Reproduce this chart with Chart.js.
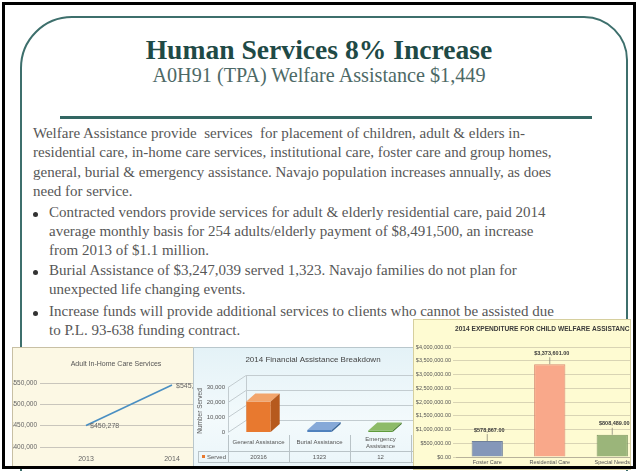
<!DOCTYPE html>
<html><head><meta charset="utf-8">
<script src="https://cdn.jsdelivr.net/npm/chart.js@4"></script>
<style>
html,body{margin:0;padding:0;background:#fff;}
#slide{position:relative;width:638px;height:471px;overflow:hidden;background:#fff;font-family:'Liberation Serif','Times New Roman',serif;}
#frame{position:absolute;left:2px;top:2px;width:628px;height:461px;border:3px solid #000;z-index:20;pointer-events:none;}
#round{position:absolute;left:20px;top:16px;width:604px;height:520px;border:2px solid #3d6f6c;border-radius:52px 44px 0 0;}
#title{position:absolute;left:0;top:35px;width:638px;text-align:center;font-weight:bold;font-size:27.6px;line-height:30px;color:#1f4a46;white-space:nowrap;}
#subtitle{position:absolute;left:0;top:64px;width:638px;text-align:center;font-size:20.2px;line-height:22px;color:#4d6966;white-space:nowrap;}
#divider{position:absolute;left:60px;top:116px;width:532px;height:3px;background:#336763;}
.blk{position:absolute;left:33px;font-size:15px;line-height:19.4px;color:#575757;white-space:nowrap;}
.bl{left:49px;}
.dot{position:absolute;left:-16px;top:9px;width:5px;height:5px;border-radius:50%;background:#333;}
.panel{position:absolute;overflow:hidden;}
#p1{left:12px;top:347px;width:215px;height:121px;background:#fcf8e4;border-left:1px solid #c8c0a4;border-top:1px solid #c8c0a4;z-index:2;}
#p2{left:193px;top:347px;width:225px;height:121px;background:linear-gradient(#e4f2f7,#f3fafc 60%,#eaf5f9);border-left:1px solid #b9c7cc;border-top:1px solid #b9c7cc;z-index:3;}
#p3{left:413px;top:319px;width:216px;height:149px;background:#fefbd2;border:1px solid #d6cf9e;z-index:4;}
canvas{position:absolute;left:0;top:0;}
</style></head>
<body>
<div id="slide">
  <div id="round"></div>
  <div id="title">Human Services 8% Increase</div>
  <div id="subtitle">A0H91 (TPA) Welfare Assistance $1,449</div>
  <div id="divider"></div>
  <div class="blk" style="top:123.7px">Welfare Assistance provide&nbsp; services&nbsp; for placement of children, adult &amp; elders in-<br>residential care, in-home care services, institutional care, foster care and group homes,<br>general, burial &amp; emergency assistance. Navajo population increases annually, as does<br>need for service.</div>
  <div class="blk bl" style="top:202.6px"><span class="dot"></span>Contracted vendors provide services for adult &amp; elderly residential care, paid 2014<br>average monthly basis for 254 adults/elderly payment of $8,491,500, an increase<br>from 2013 of $1.1 million.</div>
  <div class="blk bl" style="top:260.6px"><span class="dot"></span>Burial Assistance of $3,247,039 served 1,323. Navajo families do not plan for<br>unexpected life changing events.</div>
  <div class="blk bl" style="top:301.6px"><span class="dot"></span>Increase funds will provide additional services to clients who cannot be assisted due<br>to P.L. 93-638 funding contract.</div>

  <div class="panel" id="p1"><canvas id="c1" width="215" height="121"></canvas></div>
  <div class="panel" id="p2"><canvas id="c2" width="225" height="121"></canvas></div>
  <div class="panel" id="p3"><canvas id="c3" width="232" height="149"></canvas></div>
  <div id="frame"></div>
</div>
<script>
// ---------- data ----------
const inHomeYears = ['2013', '2014'];
const inHomeCosts = [450278, 545536];
const inHomeTicks = [400000, 450000, 500000, 550000];

const faCategories = ['General Assistance', 'Burial Assistance', 'Emergency Assistance'];
const faServed = [20316, 1323, 12];
const faTicks = [0, 10000, 20000, 30000];

const cwCategories = ['Foster Care', 'Residential Care', 'Special Needs'];
const cwExpenditure = [578867.00, 3373601.00, 808489.00];
const cwTicks = [0, 500000, 1000000, 1500000, 2000000, 2500000, 3000000, 3500000, 4000000];

const SANS = "'Liberation Sans Narrow','Liberation Sans',sans-serif";
const money0 = v => '$' + Math.round(v).toLocaleString('en-US');
const money2 = v => '$' + Number(v).toLocaleString('en-US', {minimumFractionDigits: 2, maximumFractionDigits: 2});

// ---------- chart 1 : Adult In-Home Care Services ----------
const c1Plugin = {
  id: 'c1extra',
  afterDraw(chart) {
    const ctx = chart.ctx;
    ctx.save();
    ctx.fillStyle = '#555';
    ctx.font = '7px ' + SANS;
    ctx.textAlign = 'center';
    ctx.textBaseline = 'middle';
    ctx.fillText('Adult In-Home Care Services', 103, 16);
    const meta = chart.getDatasetMeta(0);
    ctx.textAlign = 'left';
    ctx.fillStyle = '#666';
    meta.data.forEach((p, i) => {
      ctx.fillText(money0(inHomeCosts[i]), p.x + 4, p.y + 1);
    });
    ctx.restore();
  }
};
new Chart(document.getElementById('c1'), {
  type: 'line',
  data: {labels: inHomeYears, datasets: [{data: inHomeCosts, borderColor: '#4a8fc2', borderWidth: 1.6, pointRadius: 0, tension: 0}]},
  options: {
    responsive: false, animation: false, devicePixelRatio: 1,
    layout: {padding: {top: 35, right: 13, left: 0, bottom: 0}},
    plugins: {legend: {display: false}, tooltip: {enabled: false}},
    scales: {
      x: {offset: true, grid: {display: false, drawTicks: false}, border: {display: false},
          ticks: {padding: 8, font: {size: 7, family: SANS}, color: '#666'},
          afterFit(s) { s.height = 22; }},
      y: {min: 400000, max: 550000, afterBuildTicks(s) { s.ticks = inHomeTicks.map(v => ({value: v})); },
          ticks: {font: {size: 6.5, family: SANS}, color: '#666', padding: 3, callback: v => money0(v)},
          grid: {color: '#c9c6bc', tickLength: 3}, border: {display: false},
          afterFit(s) { s.width = 30; }}
    }
  },
  plugins: [c1Plugin]
});

// ---------- chart 2 : 2014 Financial Assistance Breakdown (3D look) ----------
const faFront = ['#e8792f', '#4f81bd', '#5f9b3b'];
const faTop = ['#f2a56c', '#86a9d8', '#8dbb68'];
const faSide = ['#b65a1e', '#3a6699', '#467a2a'];
const DX = 9, DY = -8;   // bar depth
const WX = 18, WY = -12; // wall depth
const c2Plugin = {
  id: 'c2extra',
  beforeDatasetsDraw(chart) {
    const ctx = chart.ctx, a = chart.chartArea, y = chart.scales.y;
    ctx.save();
    ctx.strokeStyle = '#c3ccd0';
    ctx.lineWidth = 1;
    faTicks.forEach(v => {
      const py = Math.round(y.getPixelForValue(v)) + 0.5;
      ctx.beginPath();
      ctx.moveTo(a.left, py);
      ctx.lineTo(a.left + WX, py + WY);
      ctx.lineTo(a.right + 20, py + WY);
      ctx.stroke();
    });
    ctx.beginPath();
    ctx.moveTo(a.left + 0.5, a.top); ctx.lineTo(a.left + 0.5, a.bottom);
    ctx.moveTo(a.left + WX + 0.5, a.top + WY); ctx.lineTo(a.left + WX + 0.5, a.bottom + WY);
    ctx.stroke();
    ctx.restore();
  },
  afterDatasetsDraw(chart) {
    const ctx = chart.ctx;
    const meta = chart.getDatasetMeta(0);
    ctx.save();
    meta.data.forEach((b, i) => {
      const l = b.x - b.width / 2, r = b.x + b.width / 2, t = Math.min(b.y, b.base - 1.5), base = b.base;
      ctx.fillStyle = faFront[i];
      ctx.fillRect(l, t, r - l, base - t);
      ctx.fillStyle = faTop[i];
      ctx.beginPath();
      ctx.moveTo(l, t); ctx.lineTo(l + DX, t + DY); ctx.lineTo(r + DX, t + DY); ctx.lineTo(r, t); ctx.closePath();
      ctx.fill();
      ctx.fillStyle = faSide[i];
      ctx.beginPath();
      ctx.moveTo(r, t); ctx.lineTo(r + DX, t + DY); ctx.lineTo(r + DX, base + DY); ctx.lineTo(r, base); ctx.closePath();
      ctx.fill();
    });
    ctx.restore();
  },
  afterDraw(chart) {
    const ctx = chart.ctx, a = chart.chartArea, x = chart.scales.x;
    ctx.save();
    ctx.fillStyle = '#444';
    ctx.font = '8px ' + SANS;
    ctx.textAlign = 'center';
    ctx.textBaseline = 'middle';
    ctx.fillText('2014 Financial Assistance Breakdown', 119, 12);
    ctx.save();
    ctx.translate(6, 63);
    ctx.rotate(-Math.PI / 2);
    ctx.font = '6.5px ' + SANS;
    ctx.fillStyle = '#555';
    ctx.fillText('Number Served', 0, 0);
    ctx.restore();
    const top = a.bottom + 3, mid = a.bottom + 19, bot = a.bottom + 30;
    ctx.strokeStyle = '#b9c3c7';
    ctx.lineWidth = 1;
    ctx.beginPath();
    ctx.moveTo(4, mid + 0.5); ctx.lineTo(a.right + 20, mid + 0.5);
    ctx.moveTo(4, bot + 0.5); ctx.lineTo(a.right + 20, bot + 0.5);
    ctx.moveTo(4.5, mid); ctx.lineTo(4.5, bot);
    for (let i = 0; i <= faCategories.length; i++) {
      const gx = Math.round(a.left + i * (a.right - a.left) / faCategories.length) + 0.5;
      ctx.moveTo(gx, top); ctx.lineTo(gx, bot);
    }
    ctx.stroke();
    ctx.font = '6px ' + SANS;
    ctx.fillStyle = '#555';
    faCategories.forEach((c, i) => {
      const cx = x.getPixelForValue(i);
      const words = c.split(' ');
      if (c.length > 18) {
        ctx.fillText(words[0], cx, top + 4);
        ctx.fillText(words.slice(1).join(' '), cx, top + 11);
      } else {
        ctx.fillText(c, cx, top + 7);
      }
      ctx.fillText(String(faServed[i]), cx, (mid + bot) / 2 + 0.5);
    });
    ctx.fillStyle = '#e8792f';
    ctx.fillRect(8, (mid + bot) / 2 - 1.5, 3, 3);
    ctx.fillStyle = '#555';
    ctx.textAlign = 'left';
    ctx.fillText('Served', 13, (mid + bot) / 2 + 0.5);
    ctx.restore();
  }
};
new Chart(document.getElementById('c2'), {
  type: 'bar',
  data: {labels: faCategories, datasets: [{data: faServed, backgroundColor: 'rgba(0,0,0,0)', barPercentage: 0.4, categoryPercentage: 1}]},
  options: {
    responsive: false, animation: false, devicePixelRatio: 1,
    layout: {padding: {top: 39, right: 8, left: 0, bottom: 0}},
    plugins: {legend: {display: false}, tooltip: {enabled: false}},
    scales: {
      x: {grid: {display: false, drawTicks: false}, border: {display: false}, ticks: {display: false},
          afterFit(s) { s.height = 37; }},
      y: {min: 0, max: 30000, afterBuildTicks(s) { s.ticks = faTicks.map(v => ({value: v})); },
          grid: {display: false, drawTicks: false}, border: {display: false},
          ticks: {font: {size: 6, family: SANS}, color: '#555', padding: 3, callback: v => v.toLocaleString('en-US')},
          afterFit(s) { s.width = 34; }}
    }
  },
  plugins: [c2Plugin]
});

// ---------- chart 3 : 2014 Expenditure for Child Welfare Assistance ----------
const c3Plugin = {
  id: 'c3extra',
  afterDraw(chart) {
    const ctx = chart.ctx;
    ctx.save();
    ctx.fillStyle = '#3a3a3a';
    ctx.font = 'bold 6.6px ' + SANS;
    ctx.textAlign = 'left';
    ctx.textBaseline = 'middle';
    ctx.fillText('2014 EXPENDITURE FOR CHILD WELFARE ASSISTANCE', 41, 9);
    const meta = chart.getDatasetMeta(0);
    ctx.font = 'bold 5.5px ' + SANS;
    ctx.textAlign = 'center';
    ctx.strokeStyle = '#8a8a7a';
    ctx.lineWidth = 0.8;
    meta.data.forEach((b, i) => {
      const ly = b.y - 11;
      ctx.fillStyle = '#3a3a3a';
      ctx.fillText(money2(cwExpenditure[i]), b.x + 2, ly);
      ctx.beginPath();
      ctx.moveTo(b.x, ly + 4); ctx.lineTo(b.x, b.y);
      ctx.stroke();
    });
    ctx.restore();
  }
};
new Chart(document.getElementById('c3'), {
  type: 'bar',
  data: {labels: cwCategories, datasets: [{data: cwExpenditure,
    backgroundColor: ['#8497b9', '#f9a88a', '#9bb57a'],
    borderColor: ['#6f7f99', '#d98d74', '#7f9862'], borderWidth: 1,
    barPercentage: 0.5, categoryPercentage: 1}]},
  options: {
    responsive: false, animation: false, devicePixelRatio: 1,
    layout: {padding: {top: 27, right: 2.5, left: 0, bottom: 0}},
    plugins: {legend: {display: false}, tooltip: {enabled: false}},
    scales: {
      x: {grid: {display: false, drawTicks: false}, border: {color: '#b8b29a'},
          ticks: {padding: 2, font: {size: 5.5, family: SANS}, color: '#555'},
          afterFit(s) { s.height = 12; }},
      y: {min: 0, max: 4000000, afterBuildTicks(s) { s.ticks = cwTicks.map(v => ({value: v})); },
          grid: {color: '#d9d4b4', tickLength: 3}, border: {display: false},
          ticks: {font: {size: 5.5, family: SANS}, color: '#555', padding: 2, callback: v => money2(v)},
          afterFit(s) { s.width = 42; }}
    }
  },
  plugins: [c3Plugin]
});
</script>
</body></html>
